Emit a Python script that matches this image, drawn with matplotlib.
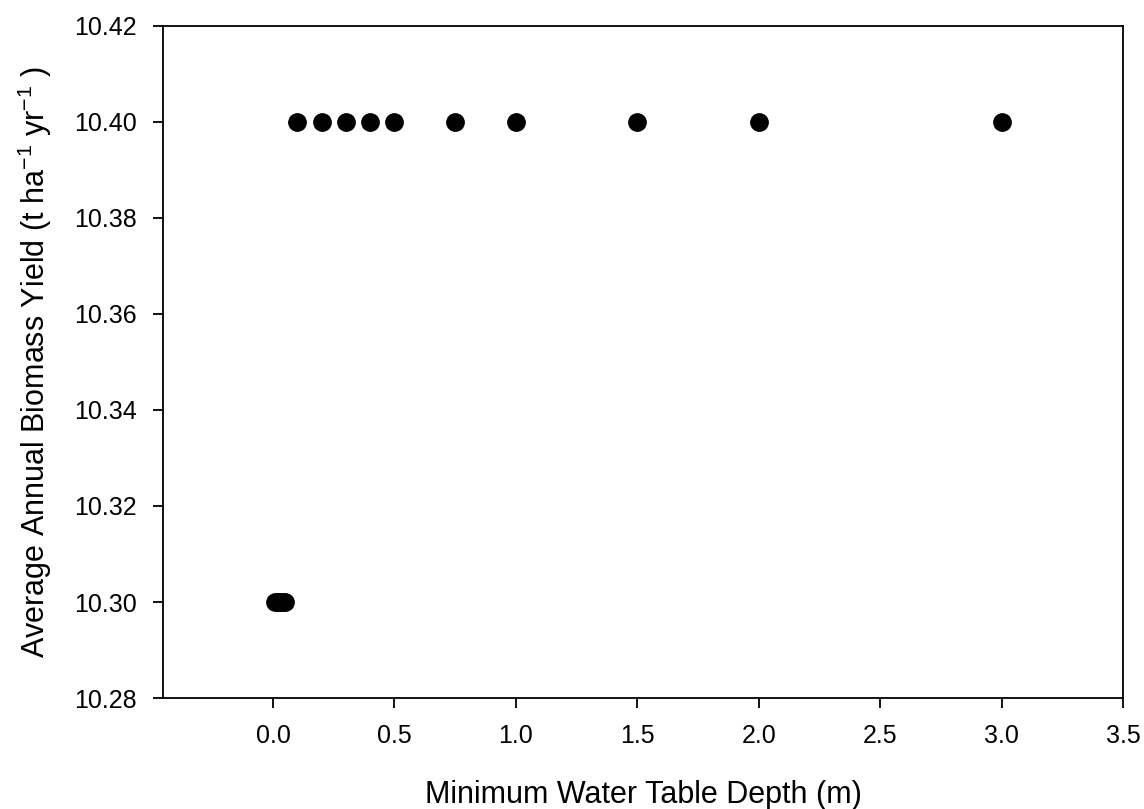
import matplotlib.pyplot as plt

plt.rcParams['font.family'] = ['Liberation Sans', 'DejaVu Sans']
plt.rcParams['mathtext.fontset'] = 'custom'
plt.rcParams['mathtext.rm'] = 'Liberation Sans'
plt.rcParams['mathtext.it'] = 'Liberation Sans'

# minimum water table depth (m) and average annual biomass yield
depth = [0.01, 0.02, 0.03, 0.04, 0.05, 0.1, 0.2, 0.3, 0.4, 0.5, 0.75, 1.0, 1.5, 2.0, 3.0]
yield_ = [10.30, 10.30, 10.30, 10.30, 10.30,
          10.40, 10.40, 10.40, 10.40, 10.40, 10.40, 10.40, 10.40, 10.40, 10.40]

xticks = [0.0, 0.5, 1.0, 1.5, 2.0, 2.5, 3.0, 3.5]
yticks = [10.28, 10.30, 10.32, 10.34, 10.36, 10.38, 10.40, 10.42]

fig = plt.figure(figsize=(11.44, 8.09), dpi=100)
ax = fig.add_axes([0.1425, 0.1372, 0.9816 - 0.1425, 0.9679 - 0.1372])

ax.plot(depth, yield_, 'o', color='black', markersize=12.5)

ax.set_xlim(-0.453, 3.5)
ax.set_ylim(10.28, 10.42)
ax.set_xticks(xticks)
ax.set_xticklabels(['%.1f' % t for t in xticks])
ax.set_yticks(yticks)
ax.set_yticklabels(['%.2f' % t for t in yticks])
ax.tick_params(direction='out', length=7, width=1.3, labelsize=18, pad=12)

for s in ax.spines.values():
    s.set_linewidth(1.3)

ax.set_xlabel('Minimum Water Table Depth (m)', fontsize=22, labelpad=23)
ax.set_ylabel('Average Annual Biomass Yield (t ha$^{\\mathregular{-1}}$ yr$^{\\mathregular{-1}}$ )',
              fontsize=22, labelpad=14)

fig.savefig('out.png', dpi=100)
